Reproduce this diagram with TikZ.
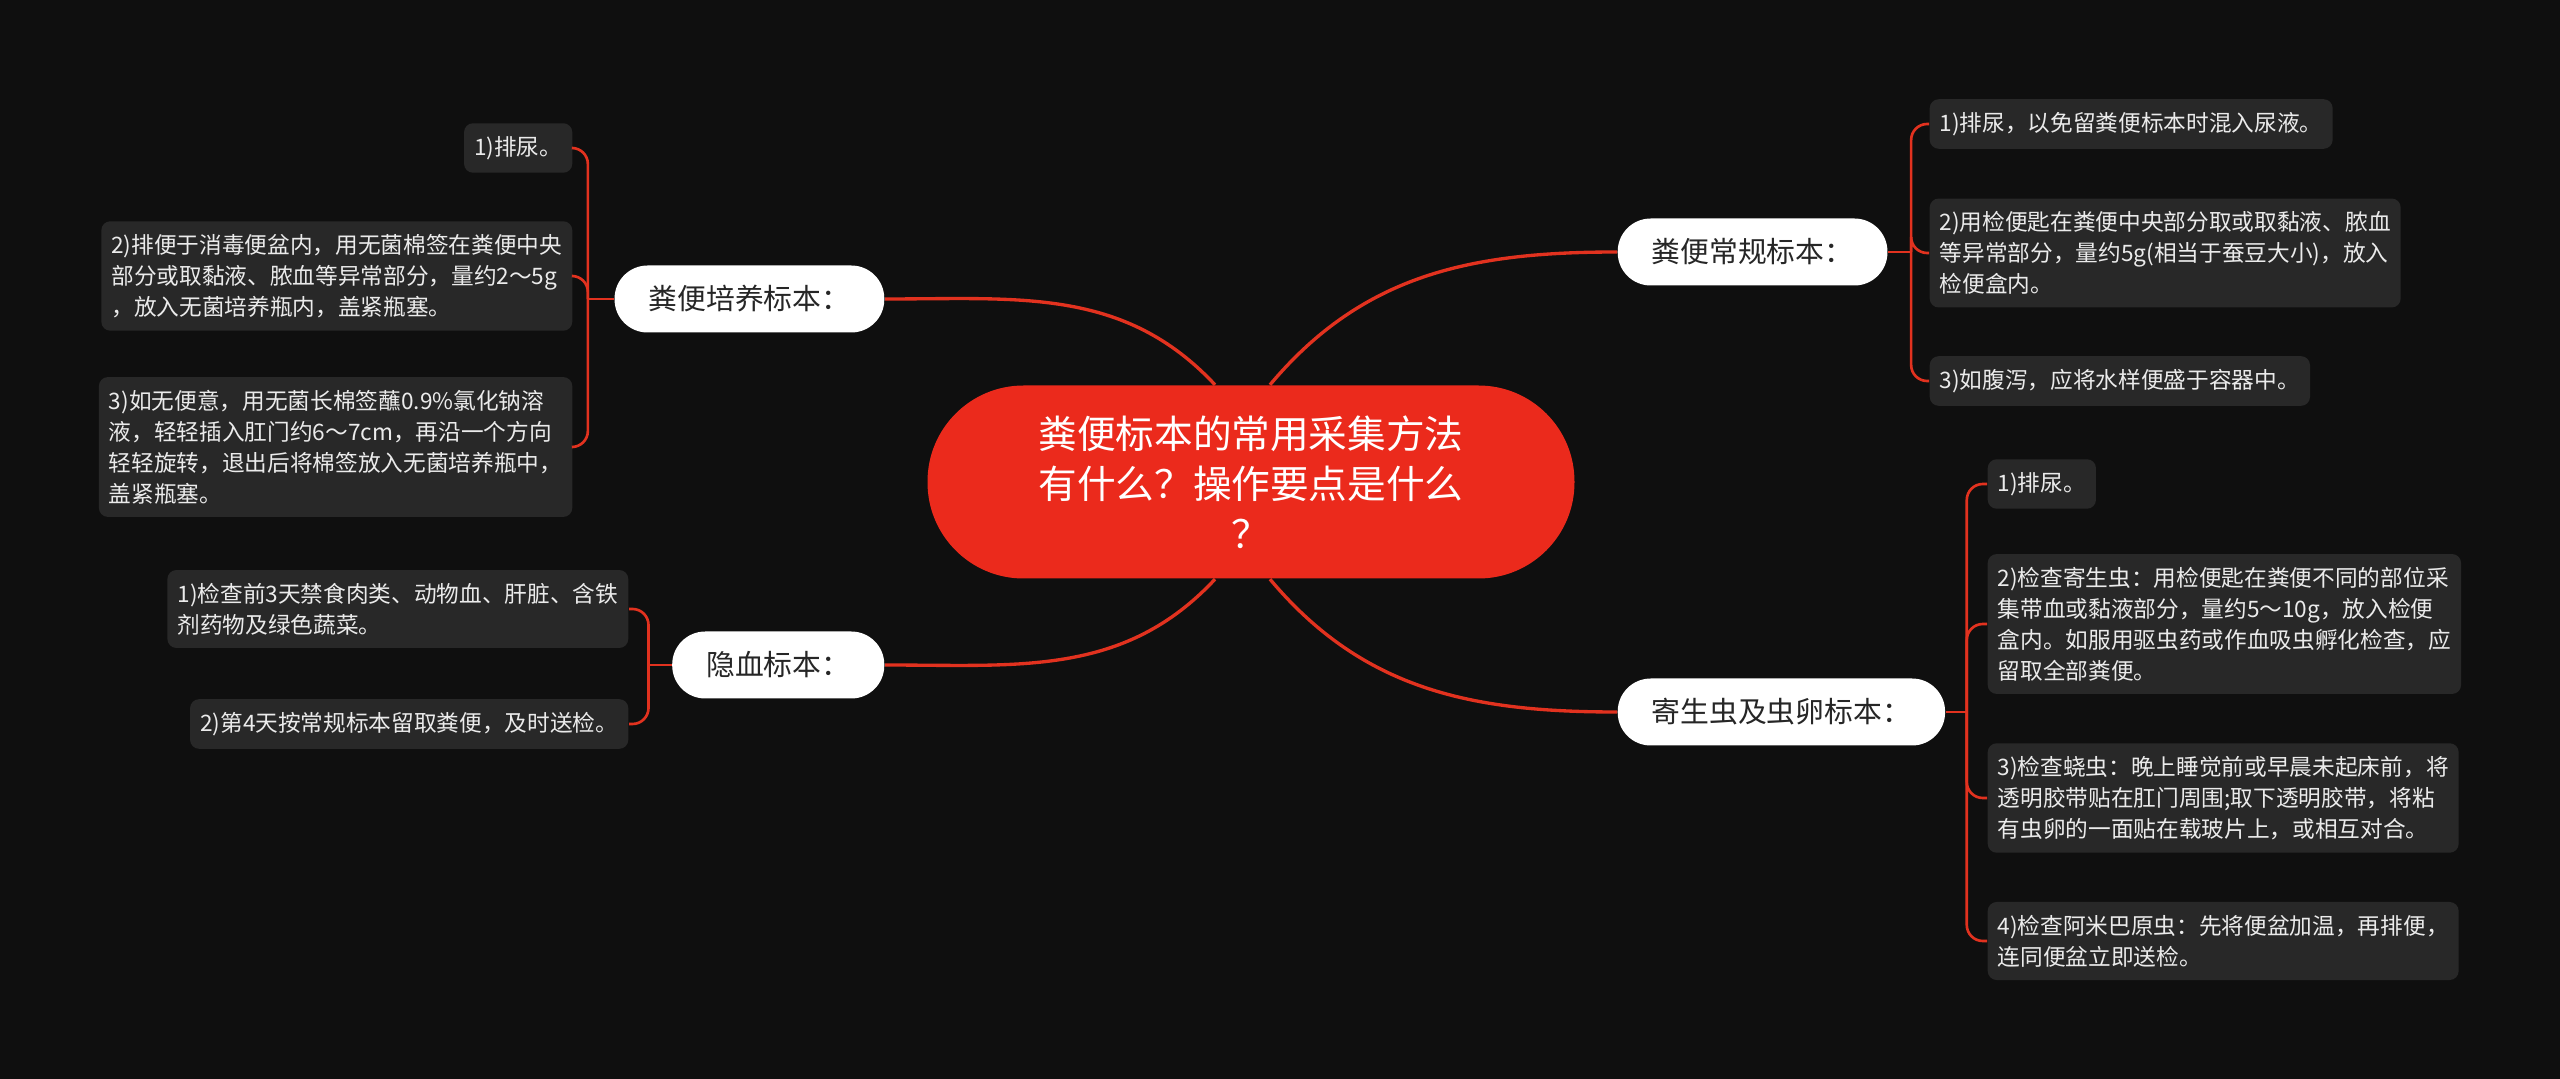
\documentclass[tikz,border=0pt]{standalone}
\usepackage{fontspec}
\setmainfont{Noto Sans CJK SC}
\usepackage{xcolor}
\usepackage{tikz}
\definecolor{bgblack}{HTML}{0F0F0F}
\definecolor{rootred}{HTML}{EB2A1C}
\definecolor{linered}{HTML}{E2321F}
\definecolor{leafgray}{HTML}{282828}
\tikzstyle{root} = [rectangle, fill=rootred, text=white, rounded corners=9.6mm, minimum width=64.7mm, minimum height=19.3mm, align=center, font=\fontsize{11}{14.2}\selectfont]
\tikzstyle{branch} = [rectangle, fill=white, text=black!85, rounded corners=3.3mm, minimum height=6.7mm, inner xsep=3.4mm, font=\fontsize{8.2}{10}\selectfont]
\tikzstyle{leaf} = [rectangle, fill=leafgray, text=white!92!black, rounded corners=0.9mm, inner xsep=1mm, inner ysep=1.3mm, align=left, font=\fontsize{6.45}{8.8}\selectfont]
\tikzstyle{link} = [linered, line width=0.95pt]
\tikzstyle{bracket} = [linered, line width=0.75pt, rounded corners=1.6mm]

\begin{document}
\begin{tikzpicture}[x=0.1mm, y=-0.1mm]
    \fill[bgblack] (0,0) rectangle (2560,1079);
    \useasboundingbox (0,0) rectangle (2560,1079);

    \node[root] (root) at (1251,482) {粪便标本的常用采集方法\\有什么？操作要点是什么\\？};
    \node[branch, anchor=west] (routine) at (1617,252) {粪便常规标本：};
    \node[branch, anchor=west] (parasite) at (1617,712) {寄生虫及虫卵标本：};
    \node[branch, anchor=east] (culture) at (885,299) {粪便培养标本：};
    \node[branch, anchor=east] (occult) at (885,665) {隐血标本：};

    \draw[link] ([xshift=1.9mm]root.north) to[out=50, in=180] (routine.west);
    \draw[link] ([xshift=1.9mm]root.south) to[out=-50, in=180] (parasite.west);
    \draw[link] ([xshift=-3.6mm]root.north) to[out=133, in=0] (culture.east);
    \draw[link] ([xshift=-3.6mm]root.south) to[out=-133, in=0] (occult.east);

    \node[leaf, anchor=west] (routine1) at (1929,124) {1)排尿，以免留粪便标本时混入尿液。};
    \node[leaf, anchor=west] (routine2) at (1929,253) {2)用检便匙在粪便中央部分取或取黏液、脓血\\等异常部分，量约5g(相当于蚕豆大小)，放入\\检便盒内。};
    \node[leaf, anchor=west] (routine3) at (1929,381) {3)如腹泻，应将水样便盛于容器中。};

    \node[leaf, anchor=west] (parasite1) at (1987,484) {1)排尿。};
    \node[leaf, anchor=west] (parasite2) at (1987,624) {2)检查寄生虫：用检便匙在粪便不同的部位采\\集带血或黏液部分，量约5～10g，放入检便\\盒内。如服用驱虫药或作血吸虫孵化检查，应\\留取全部粪便。};
    \node[leaf, anchor=west] (parasite3) at (1987,798) {3)检查蛲虫：晚上睡觉前或早晨未起床前，将\\透明胶带贴在肛门周围;取下透明胶带，将粘\\有虫卵的一面贴在载玻片上，或相互对合。};
    \node[leaf, anchor=west] (parasite4) at (1987,941) {4)检查阿米巴原虫：先将便盆加温，再排便，\\连同便盆立即送检。};

    \node[leaf, anchor=east] (culture1) at (573,148) {1)排尿。};
    \node[leaf, anchor=east] (culture2) at (573,276) {2)排便于消毒便盆内，用无菌棉签在粪便中央\\部分或取黏液、脓血等异常部分，量约2～5g\\，放入无菌培养瓶内，盖紧瓶塞。};
    \node[leaf, anchor=east] (culture3) at (573,447) {3)如无便意，用无菌长棉签蘸0.9\%氯化钠溶\\液，轻轻插入肛门约6～7cm，再沿一个方向\\轻轻旋转，退出后将棉签放入无菌培养瓶中，\\盖紧瓶塞。};

    \node[leaf, anchor=east] (occult1) at (629,609) {1)检查前3天禁食肉类、动物血、肝脏、含铁\\剂药物及绿色蔬菜。};
    \node[leaf, anchor=east] (occult2) at (629,724) {2)第4天按常规标本留取粪便，及时送检。};

    \coordinate (routinej) at ([xshift=2.3mm]routine.east);
    \coordinate (parasitej) at ([xshift=2.1mm]parasite.east);
    \coordinate (culturej) at ([xshift=-2.6mm]culture.west);
    \coordinate (occultj) at ([xshift=-2.3mm]occult.west);

    \draw[bracket] (routine.east) -- (routinej);
    \foreach \n in {routine1,routine2,routine3}
        \draw[bracket] (routinej) |- (\n.west);
    \draw[bracket] (parasite.east) -- (parasitej);
    \foreach \n in {parasite1,parasite2,parasite3,parasite4}
        \draw[bracket] (parasitej) |- (\n.west);
    \draw[bracket] (culture.west) -- (culturej);
    \foreach \n in {culture1,culture2,culture3}
        \draw[bracket] (culturej) |- (\n.east);
    \draw[bracket] (occult.west) -- (occultj);
    \foreach \n in {occult1,occult2}
        \draw[bracket] (occultj) |- (\n.east);
\end{tikzpicture}
\end{document}
